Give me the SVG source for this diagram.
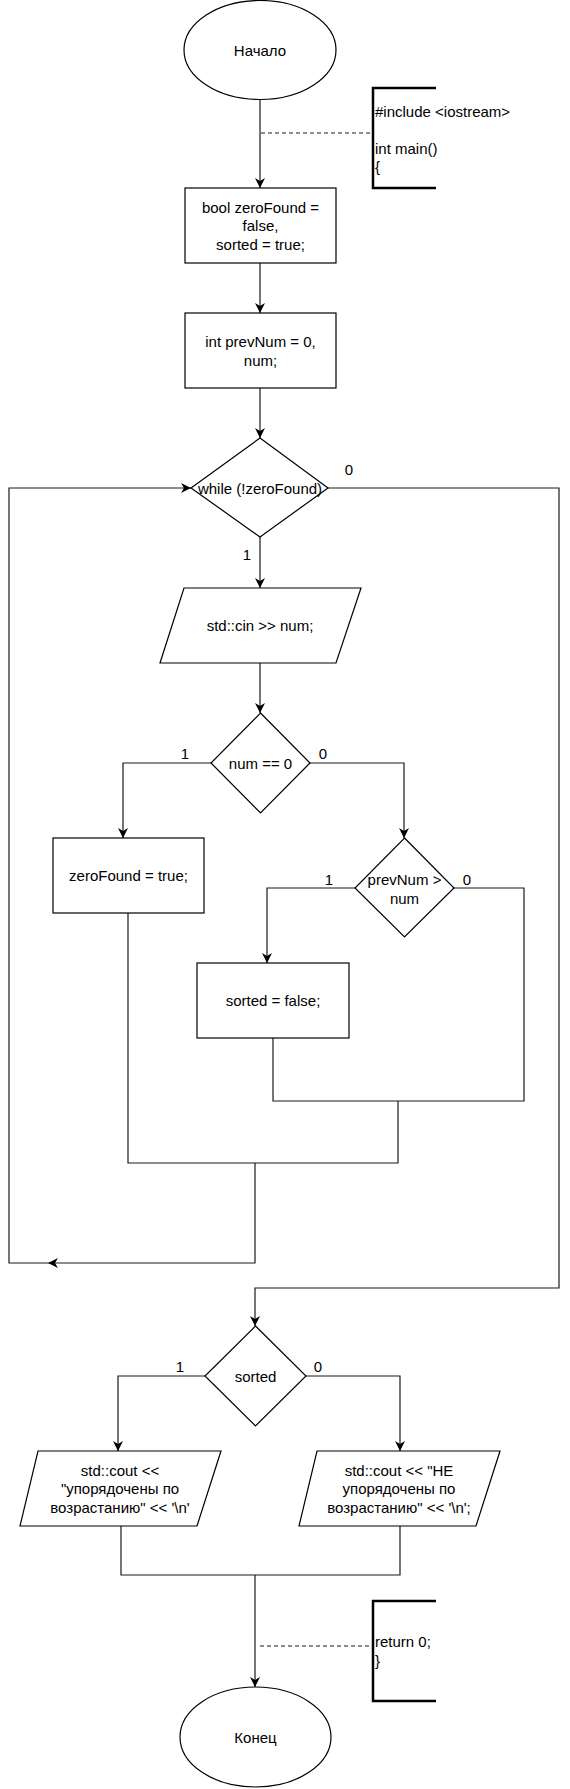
<svg xmlns="http://www.w3.org/2000/svg" width="570" height="1789" viewBox="0 0 570 1789">
<defs>
<marker id="arr" markerUnits="userSpaceOnUse" markerWidth="14" markerHeight="12" viewBox="-11 -6 12 12" refX="0" refY="0" orient="auto">
<path d="M0,0 L-10,-5 L-7,0 L-10,5 Z" fill="#000"/>
</marker>
<style>
.s{fill:#fff;stroke:#000;stroke-width:1.2}
.t{font-family:"Liberation Sans",Arial,sans-serif;font-size:15px;fill:#000;text-anchor:middle;dominant-baseline:central}
.l{font-family:"Liberation Sans",Arial,sans-serif;font-size:15px;fill:#000;dominant-baseline:central}
.e{fill:none;stroke:#1a1a1a;stroke-width:1.2}
.a{marker-end:url(#arr)}
.d{fill:none;stroke:#1a1a1a;stroke-width:1.2;stroke-dasharray:4 3}
.b{fill:none;stroke:#000;stroke-width:2.5}
</style>
</defs>
<rect width="570" height="1789" fill="#fff"/>
<g id="connectors">
<path class="e a" d="M260,100 V188"/>
<path class="e a" d="M260,263 V313"/>
<path class="e a" d="M260,388 V438"/>
<path class="e a" d="M260,537 V588"/>
<path class="e a" d="M260,663 V713"/>
<path class="e a" d="M211,763 H123 V838"/>
<path class="e a" d="M310,763 H404 V838"/>
<path class="e a" d="M355,888 H267 V963"/>
<path class="e" d="M454,888 H524 V1101 H273 V1038"/>
<path class="e" d="M398,1101 V1163 H128 V913"/>
<path class="e a" d="M255,1163 V1263 H48"/>
<path class="e a" d="M48,1263 H9 V488 H191"/>
<path class="e a" d="M328,488 H559 V1288 H255 V1326"/>
<path class="e a" d="M205,1376 H118 V1451"/>
<path class="e a" d="M306,1376 H400 V1451"/>
<path class="e" d="M121,1526 V1575 H400 V1526"/>
<path class="e a" d="M255,1575 V1687"/>
<path class="d" d="M261,133 H372"/>
<path class="d" d="M260,1646 H369"/>
<text class="t" x="349" y="469">0</text>
<text class="t" x="247" y="554">1</text>
<text class="t" x="185" y="753">1</text>
<text class="t" x="323" y="753">0</text>
<text class="t" x="329" y="879">1</text>
<text class="t" x="467" y="879">0</text>
<text class="t" x="180" y="1366">1</text>
<text class="t" x="318" y="1366">0</text>
</g>
<g id="start">
<ellipse class="s" cx="260" cy="50" rx="76" ry="49.5"/>
<text class="t" x="260" y="50">Начало</text>
</g>
<g id="comment1">
<path class="b" d="M436,88 H373 V188 H436"/>
<text class="l" x="375" y="111">#include &lt;iostream&gt;</text>
<text class="l" x="375" y="148">int main()</text>
<text class="l" x="375" y="166">{</text>
</g>
<g id="init1">
<rect class="s" x="185" y="188" width="151" height="75"/>
<text class="t" x="260.5" y="207">bool zeroFound =</text>
<text class="t" x="260.5" y="225">false,</text>
<text class="t" x="260.5" y="244">sorted = true;</text>
</g>
<g id="init2">
<rect class="s" x="185" y="313" width="151" height="75"/>
<text class="t" x="260.5" y="341">int prevNum = 0,</text>
<text class="t" x="260.5" y="360">num;</text>
</g>
<g id="while">
<path class="s" d="M260,438 L328,488 L260,537 L191,488 Z"/>
<text class="t" x="260" y="488">while (!zeroFound)</text>
</g>
<g id="input">
<path class="s" d="M184,588 H361 L336,663 H160 Z"/>
<text class="t" x="260" y="625">std::cin &gt;&gt; num;</text>
</g>
<g id="cond-zero">
<path class="s" d="M260.5,713 L310,763 L260.5,813 L211,763 Z"/>
<text class="t" x="260.5" y="763">num == 0</text>
</g>
<g id="set-zero">
<rect class="s" x="53" y="838" width="151" height="75"/>
<text class="t" x="128.5" y="875">zeroFound = true;</text>
</g>
<g id="cond-prev">
<path class="s" d="M404.5,838 L454,888 L404.5,937 L355,888 Z"/>
<text class="t" x="404.5" y="879">prevNum &gt;</text>
<text class="t" x="404.5" y="898">num</text>
</g>
<g id="set-sorted">
<rect class="s" x="197" y="963" width="152" height="75"/>
<text class="t" x="273" y="1000">sorted = false;</text>
</g>
<g id="cond-sorted">
<path class="s" d="M255.5,1326 L306,1376 L255.5,1426 L205,1376 Z"/>
<text class="t" x="255.5" y="1376">sorted</text>
</g>
<g id="out-yes">
<path class="s" d="M38,1451 H221 L197,1526 H20 Z"/>
<text class="t" x="120" y="1470">std::cout &lt;&lt;</text>
<text class="t" x="120" y="1488">"упорядочены по</text>
<text class="t" x="120" y="1507">возрастанию" &lt;&lt; '\n'</text>
</g>
<g id="out-no">
<path class="s" d="M317,1451 H500 L476,1526 H299 Z"/>
<text class="t" x="399" y="1470">std::cout &lt;&lt; "НЕ</text>
<text class="t" x="399" y="1488">упорядочены по</text>
<text class="t" x="399" y="1507">возрастанию" &lt;&lt; '\n';</text>
</g>
<g id="comment2">
<path class="b" d="M436,1601 H373 V1701 H436"/>
<text class="l" x="375" y="1641">return 0;</text>
<text class="l" x="375" y="1660">}</text>
</g>
<g id="end">
<ellipse class="s" cx="255.5" cy="1737" rx="75.5" ry="50"/>
<text class="t" x="255.5" y="1737">Конец</text>
</g>
</svg>
